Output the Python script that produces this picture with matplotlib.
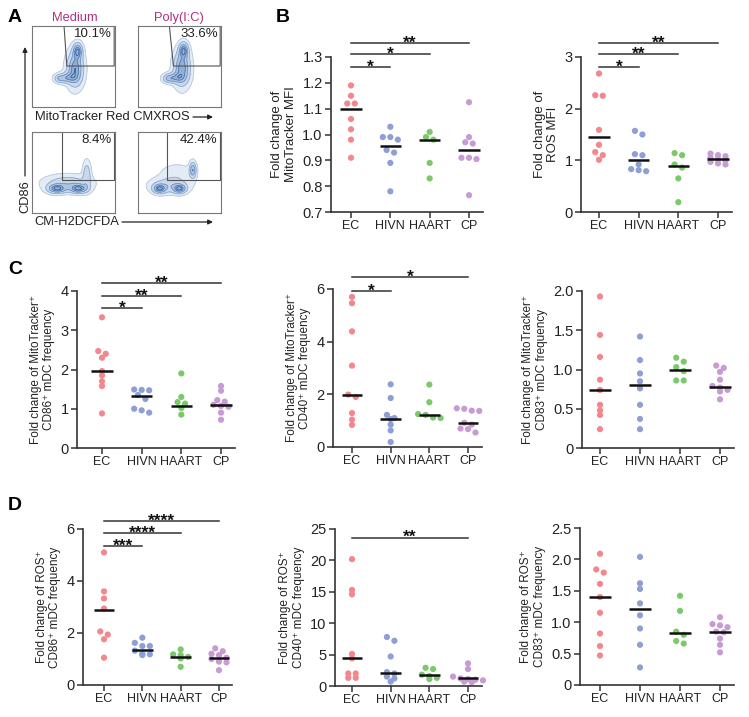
import numpy as np
import matplotlib.pyplot as plt
from matplotlib.transforms import blended_transform_factory, offset_copy

plt.rcParams['font.family'] = ['Liberation Sans', 'DejaVu Sans']

W, H = 749, 717

groups = ['EC', 'HIVN', 'HAART', 'CP']
group_colors = ['#f4868c', '#8e9fd6', '#7cc96a', '#c79bd3']

# ---- panel B ----
mito_mfi = [[1.19, 1.15, 1.12, 1.12, 1.06, 1.02, 0.98, 0.91],
            [1.03, 0.99, 0.99, 0.98, 0.94, 0.93, 0.89, 0.78],
            [1.01, 0.99, 0.98, 0.89, 0.83],
            [1.125, 0.99, 0.97, 0.965, 0.91, 0.91, 0.905, 0.765]]
mito_mfi_med = [1.10, 0.957, 0.977, 0.94]

ros_mfi = [[2.68, 2.26, 2.25, 1.59, 1.30, 1.16, 1.10, 1.01],
           [1.57, 1.50, 1.12, 1.10, 0.92, 0.83, 0.81, 0.79],
           [1.14, 1.10, 0.92, 0.86, 0.65, 0.19],
           [1.13, 1.10, 1.08, 1.05, 1.02, 1.00, 0.97, 0.94, 0.92]]
ros_mfi_med = [1.45, 1.01, 0.89, 1.02]

# ---- panel C ----
mito_cd86 = [[3.33, 2.47, 2.40, 2.30, 1.96, 1.85, 1.70, 1.58, 0.88],
             [1.49, 1.48, 1.47, 1.35, 1.25, 1.00, 0.96, 0.90],
             [1.90, 1.30, 1.17, 1.13, 1.02, 0.85],
             [1.58, 1.46, 1.22, 1.18, 1.10, 1.07, 1.05, 0.90, 0.72]]
mito_cd86_med = [1.95, 1.32, 1.07, 1.10]

mito_cd40 = [[5.70, 5.46, 4.39, 3.09, 1.99, 1.90, 1.29, 1.04, 0.84],
             [2.38, 1.86, 1.22, 1.10, 1.06, 0.85, 0.63, 0.19],
             [2.37, 1.70, 1.25, 1.22, 1.12, 1.10],
             [1.47, 1.45, 1.38, 1.37, 0.92, 0.85, 0.70, 0.68, 0.55]]
mito_cd40_med = [1.99, 1.07, 1.22, 0.90]

mito_cd83 = [[1.93, 1.44, 1.16, 0.87, 0.74, 0.55, 0.48, 0.42, 0.24],
             [1.42, 1.12, 0.95, 0.85, 0.76, 0.55, 0.37, 0.24],
             [1.15, 1.10, 1.03, 0.98, 0.86, 0.86],
             [1.05, 1.02, 0.97, 0.87, 0.79, 0.77, 0.74, 0.72, 0.62]]
mito_cd83_med = [0.74, 0.80, 1.00, 0.78]

# ---- panel D ----
ros_cd86 = [[5.10, 3.60, 3.33, 2.94, 2.06, 1.94, 1.76, 1.05],
            [1.82, 1.62, 1.50, 1.50, 1.32, 1.20, 1.18, 1.15],
            [1.37, 1.18, 1.15, 1.08, 1.02, 0.70],
            [1.41, 1.30, 1.20, 1.15, 1.05, 1.00, 0.90, 0.87, 0.57]]
ros_cd86_med = [2.90, 1.36, 1.08, 1.05]

ros_cd40 = [[20.2, 15.3, 14.6, 5.1, 4.4, 2.0, 2.0, 1.3, 1.3],
            [7.8, 7.2, 4.7, 2.2, 2.0, 1.5, 1.2, 0.7],
            [2.9, 2.7, 1.8, 1.6, 1.3, 1.1],
            [3.6, 2.7, 1.5, 1.2, 1.1, 1.0, 0.9, 0.7, 0.6]]
ros_cd40_med = [4.4, 2.1, 1.7, 1.2]

ros_cd83 = [[2.09, 1.84, 1.79, 1.61, 1.40, 1.15, 0.82, 0.62, 0.47],
            [2.04, 1.62, 1.53, 1.30, 1.11, 0.90, 0.64, 0.28],
            [1.42, 1.18, 0.85, 0.80, 0.70, 0.66],
            [1.08, 0.97, 0.95, 0.92, 0.85, 0.84, 0.74, 0.64, 0.52]]
ros_cd83_med = [1.40, 1.21, 0.83, 0.85]

# ---- panel A (flow plots): blob centres/sizes ----
flow_pcts = ['10.1%', '33.6%', '8.4%', '42.4%']
flow_blobs = [
    [(0.55, 0.69, 0.035, 0.06, 1.0), (0.52, 0.47, 0.06, 0.13, 1.1),
     (0.42, 0.36, 0.07, 0.04, 0.7), (0.33, 0.35, 0.04, 0.03, 0.4)],
    [(0.55, 0.70, 0.035, 0.06, 1.0), (0.53, 0.48, 0.06, 0.13, 1.1),
     (0.44, 0.36, 0.07, 0.04, 0.7), (0.36, 0.35, 0.04, 0.03, 0.4)],
    [(0.30, 0.30, 0.07, 0.035, 1.0), (0.56, 0.30, 0.07, 0.035, 1.0),
     (0.43, 0.37, 0.17, 0.06, 0.45), (0.66, 0.47, 0.03, 0.10, 0.45)],
    [(0.26, 0.30, 0.05, 0.035, 1.0), (0.50, 0.30, 0.05, 0.035, 1.0),
     (0.38, 0.34, 0.14, 0.06, 0.45), (0.66, 0.53, 0.025, 0.06, 0.85),
     (0.47, 0.48, 0.13, 0.08, 0.18)],
]


def P(x, y):
    return x / W, 1 - y / H


fig = plt.figure(figsize=(W / 100, H / 100), dpi=100)

# overlay in pixel coordinates for panel A labels and arrows
ov = fig.add_axes([0, 0, 1, 1])
ov.set_xlim(0, W)
ov.set_ylim(H, 0)
ov.axis('off')
ov.patch.set_visible(False)

for lab, (x, y) in zip('ABCD', [(15, 18), (283, 18), (15, 270), (15, 505)]):
    ov.text(x, y, lab, fontsize=14, fontweight='bold', ha='center', va='center')

ov.text(75, 18, 'Medium', color='#b02f7e', fontsize=9.3, ha='center', va='center')
ov.text(179, 18, 'Poly(I:C)', color='#b02f7e', fontsize=9.3, ha='center', va='center')
ov.text(35, 117, 'MitoTracker Red CMXROS', fontsize=9.3, ha='left', va='center', color='#222')
ov.text(34, 222, 'CM-H2DCFDA', fontsize=9.3, ha='left', va='center', color='#222')
ov.text(25, 197, 'CD86', fontsize=9.3, rotation=90, ha='center', va='center', color='#222')
arrow = dict(arrowstyle='-|>', color='#222', lw=0.9, mutation_scale=7, shrinkA=0, shrinkB=0)
ov.annotate('', xy=(213, 117), xytext=(193, 117), arrowprops=arrow)
ov.annotate('', xy=(213, 222), xytext=(122, 222), arrowprops=arrow)
ov.annotate('', xy=(25, 47), xytext=(25, 176), arrowprops=arrow)

boxes = [(32, 26), (138, 26), (32, 132), (138, 132)]
gates = [[(0.386, 1.0), (0.42, 0.506), (0.99, 0.506), (0.99, 1.0)],
         [(0.378, 1.0), (0.427, 0.506), (0.99, 0.506), (0.99, 1.0)],
         [(0.36, 1.0), (0.36, 0.41), (0.99, 0.41), (0.99, 1.0)],
         [(0.35, 1.0), (0.35, 0.41), (0.99, 0.41), (0.99, 1.0)]]
gx, gy = np.meshgrid(np.linspace(0, 1, 240), np.linspace(0, 1, 240))
for (bx, by), blobs, gate, pct in zip(boxes, flow_blobs, gates, flow_pcts):
    l, b = P(bx, by + 81)
    ax = fig.add_axes([l, b, 83 / W, 81 / H])
    dens = np.zeros_like(gx)
    for cx, cy, sx, sy, w in blobs:
        dens += w * np.exp(-0.5 * (((gx - cx) / sx) ** 2 + ((gy - cy) / sy) ** 2))
    dens /= dens.max()
    ax.contourf(gx, gy, dens, levels=[0.05, 0.2, 0.45, 0.7, 1.01],
                colors=['#e3ebf5', '#c9d8eb', '#aec4e0', '#93b0d4'])
    ax.contour(gx, gy, dens, levels=[0.05, 0.2, 0.45, 0.7, 0.88],
               colors=['#b7c9e2', '#8eaad1', '#6f92c2', '#4f7ab3', '#2f5f9e'],
               linewidths=0.6)
    xs, ys = zip(*gate)
    ax.plot(xs, ys, color='#555', lw=0.8)
    ax.text(0.96, 0.9, pct, fontsize=9.5, ha='right', va='center', color='#222',
            transform=ax.transAxes)
    ax.set_xlim(0, 1)
    ax.set_ylim(0, 1)
    ax.set_xticks([])
    ax.set_yticks([])
    for s in ax.spines.values():
        s.set_color('#777')
        s.set_linewidth(0.8)

# ---- dot plots ----
panels = [
    # data, medians, layout px (spine_x, ec_x, cp_x, top_y, bottom_y), ylim, ticks, ticklabels, ylabel, label size, bars
    (mito_mfi, mito_mfi_med, (331, 351, 469, 57, 212), (0.7, 1.3),
     [0.7, 0.8, 0.9, 1.0, 1.1, 1.2, 1.3], None,
     'Fold change of\nMitoTracker MFI', 9.5,
     [(1, '*', 0.935), (2, '*', 1.02), (3, '**', 1.09)]),
    (ros_mfi, ros_mfi_med, (581, 599, 718, 57, 212), (0, 3),
     [0, 1, 2, 3], None,
     'Fold change of\nROS MFI', 9.5,
     [(1, '*', 0.935), (2, '**', 1.02), (3, '**', 1.09)]),
    (mito_cd86, mito_cd86_med, (77, 102, 221, 291, 448), (0, 4),
     [0, 1, 2, 3, 4], None,
     'Fold change of MitoTracker\u207a\nCD86\u207a mDC frequency', 8.5,
     [(1, '*', 0.89), (2, '**', 0.968), (3, '**', 1.049)]),
    (mito_cd40, mito_cd40_med, (333, 352, 468, 289, 447), (0, 6),
     [0, 2, 4, 6], None,
     'Fold change of MitoTracker\u207a\nCD40\u207a mDC frequency', 8.5,
     [(1, '*', 0.989), (3, '*', 1.074)]),
    (mito_cd83, mito_cd83_med, (582, 600, 720, 291, 448), (0, 2),
     [0, 0.5, 1.0, 1.5, 2.0], ['0', '0.5', '1.0', '1.5', '2.0'],
     'Fold change of MitoTracker\u207a\nCD83\u207a mDC frequency', 8.5, []),
    (ros_cd86, ros_cd86_med, (83, 104, 219, 529, 685), (0, 6),
     [0, 2, 4, 6], None,
     'Fold change of ROS\u207a\nCD86\u207a mDC frequency', 8.5,
     [(1, '***', 0.89), (2, '****', 0.973), (3, '****', 1.05)]),
    (ros_cd40, ros_cd40_med, (335, 352, 468, 529, 686), (0, 25),
     [0, 5, 10, 15, 20, 25], None,
     'Fold change of ROS\u207a\nCD40\u207a mDC frequency', 8.5,
     [(3, '**', 0.945)]),
    (ros_cd83, ros_cd83_med, (580, 600, 720, 528, 685), (0, 2.5),
     [0, 0.5, 1.0, 1.5, 2.0, 2.5], ['0', '0.5', '1.0', '1.5', '2.0', '2.5'],
     'Fold change of ROS\u207a\nCD83\u207a mDC frequency', 8.5, []),
]

DOT = 5.8   # px, dot diameter
STEP = 7.5  # px, horizontal spacing in a row

for data, meds, (sx, ecx, cpx, ty, by), ylim, ticks, tlabels, ylab, lsz, bars in panels:
    sp = (cpx - ecx) / 3
    x0 = -(ecx - sx) / sp
    x1 = 3.35
    right_px = cpx + 0.35 * sp
    l, b = P(sx, by)
    ax = fig.add_axes([l, b, (right_px - sx) / W, (by - ty) / H])
    ax.set_xlim(x0, x1)
    ax.set_ylim(*ylim)
    hpx = by - ty
    for i, (vals, col) in enumerate(zip(data, group_colors)):
        v = np.array(vals, dtype=float)
        ypx = (v - ylim[0]) / (ylim[1] - ylim[0]) * hpx
        order = np.argsort(-ypx)
        xs = np.zeros_like(v)
        rows, cur = [], [order[0]]
        for k in order[1:]:
            if ypx[cur[0]] - ypx[k] < 0.7 * DOT:
                cur.append(k)
            else:
                rows.append(cur)
                cur = [k]
        rows.append(cur)
        for row in rows:
            n = len(row)
            for j, k in enumerate(row):
                xs[k] = i + (j - (n - 1) / 2) * STEP / sp
        ax.scatter(xs, v, s=20, color=col, edgecolors='none', zorder=2, clip_on=False)
        ax.hlines(meds[i], i - 0.27, i + 0.27, color='#111', lw=1.8, zorder=3)
    ax.set_xticks(range(4))
    ax.set_xticklabels(groups)
    ax.set_yticks(ticks)
    if tlabels:
        ax.set_yticklabels(tlabels)
    ax.tick_params(length=4, width=1.1, color='#333', labelcolor='#222', pad=2)
    ax.tick_params(axis='x', labelsize=9)
    ax.tick_params(axis='y', labelsize=10.5)
    for s in ['top', 'right']:
        ax.spines[s].set_visible(False)
    for s in ['left', 'bottom']:
        ax.spines[s].set_color('#333')
        ax.spines[s].set_linewidth(1.2)
    ax.set_ylabel(ylab, fontsize=lsz, color='#222', linespacing=1.15, labelpad=4)
    bt = blended_transform_factory(ax.transData, ax.transAxes)
    st = offset_copy(bt, fig=fig, y=-3.3, units='points')
    for j, stars, yf in bars:
        ax.plot([0, j], [yf, yf], color='#333', lw=1.1, transform=bt, clip_on=False)
        ax.text(j / 2, yf, stars, transform=st, ha='center', va='baseline',
                fontsize=12.5, fontweight='bold', color='#111')

fig.savefig('out.png', dpi=100)
